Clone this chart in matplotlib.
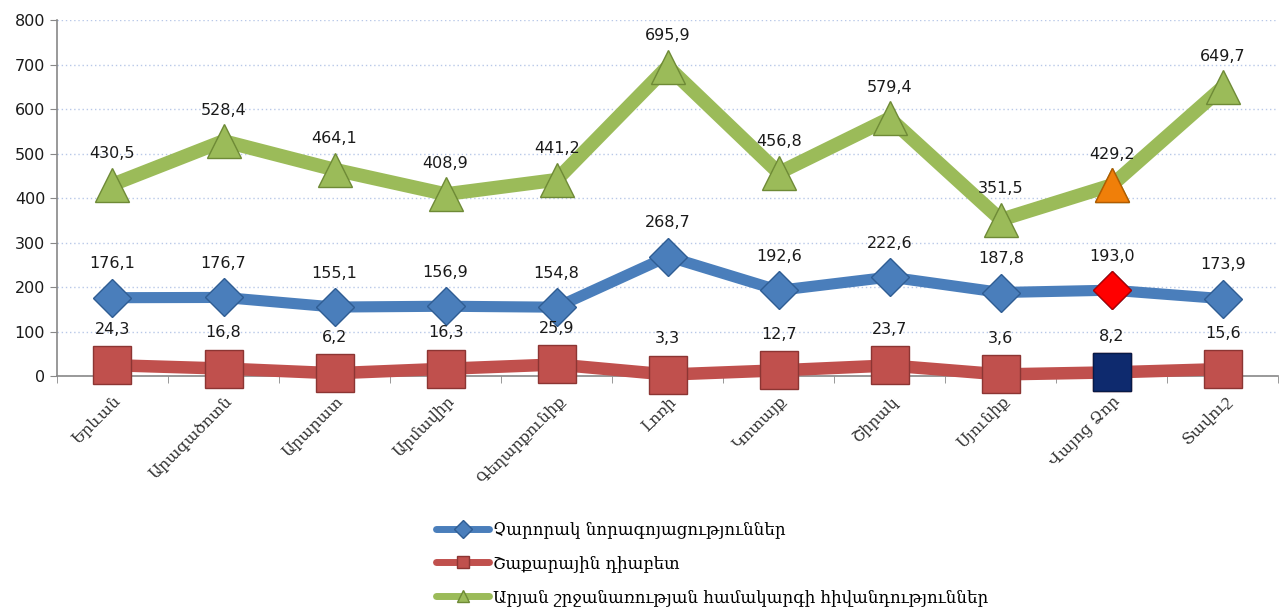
import numpy as np
import matplotlib
matplotlib.use("Agg")
import matplotlib.pyplot as plt

# === Data ===
regions = ["Երևան", "Արագածոտն", "Արարատ", "Արմավիր", "Գեղարքունիք", "Լոռի",
           "Կոտայք", "Շիրակ", "Սյունիք", "Վայոց Ձոր", "Տավուշ"]
cancer = [176.1, 176.7, 155.1, 156.9, 154.8, 268.7, 192.6, 222.6, 187.8, 193.0, 173.9]
diabetes = [24.3, 16.8, 6.2, 16.3, 25.9, 3.3, 12.7, 23.7, 3.6, 8.2, 15.6]
circulatory = [430.5, 528.4, 464.1, 408.9, 441.2, 695.9, 456.8, 579.4, 351.5, 429.2, 649.7]
series_names = ["Չարորակ նորագոյացություններ", "Շաքարային դիաբետ",
                "Արյան շրջանառության համակարգի հիվանդություններ"]
highlight = "Վայոց Ձոր"

SERIF = ["DejaVu Serif", "DejaVu Sans"]

fig = plt.figure(figsize=(12.83, 6.14), dpi=100)
ax = fig.add_axes([0.0444, 0.3876, 0.952, 0.5794])

x = np.arange(len(regions))
hi = regions.index(highlight)


def fmt(v):
    return f"{v:.1f}".replace(".", ",")


styles = [
    (cancer, "#4A7EBB", "#2f5d93", "D", 19, 8, "#FF0000", "#b00000", 34),
    (diabetes, "#C0504D", "#8c3533", "s", 28, 9, "#0E2A6E", "#071a47", 36),
    (circulatory, "#9BBB59", "#6e8a36", "^", 24, 10, "#F07F09", "#b35b00", 31),
]

handles = []
for (vals, col, edge, mk, ms, lw, hcol, hedge, off), name in zip(styles, series_names):
    ax.plot(x, vals, color=col, lw=lw, marker=mk, ms=ms,
            markerfacecolor=col, markeredgecolor=edge, markeredgewidth=1,
            solid_capstyle="round", zorder=3, clip_on=False)
    ax.plot(x[hi], vals[hi], linestyle="none", marker=mk, ms=ms,
            markerfacecolor=hcol, markeredgecolor=hedge, markeredgewidth=1,
            zorder=4, clip_on=False)
    for xi, v in zip(x, vals):
        ax.annotate(fmt(v), (xi, v), xytext=(0, off), textcoords="offset pixels",
                    ha="center", va="center", fontsize=11.5, color="#1a1a1a", zorder=5)
    h, = ax.plot([], [], color=col, lw=5, marker=mk, ms=9,
                 markerfacecolor=col, markeredgecolor=edge, solid_capstyle="round")
    handles.append(h)

ax.set_ylim(0, 800)
ax.set_xlim(-0.5, len(regions) - 0.5)
ax.set_yticks(np.arange(0, 801, 100))
ax.tick_params(axis="y", labelsize=11.5, length=5, color="#888888", labelcolor="#1a1a1a")
ax.set_xticks(x)
ax.set_xticklabels(regions, rotation=45, ha="right", rotation_mode="anchor",
                   family=SERIF, fontsize=11.5, color="#333333")
ax.tick_params(axis="x", length=0, pad=12)
ax.set_xticks(np.arange(-0.5, len(regions), 1), minor=True)
ax.tick_params(axis="x", which="minor", length=5, color="#888888")
ax.grid(axis="y", color="#b8c8e8", linestyle=(0, (1, 2)), lw=1)
ax.set_axisbelow(True)
for s in ["top", "right"]:
    ax.spines[s].set_visible(False)
for s in ["left", "bottom"]:
    ax.spines[s].set_color("#888888")
    ax.spines[s].set_linewidth(1.2)

fig.legend(handles, series_names, loc="center", bbox_to_anchor=(0.555, 0.082),
           frameon=False, prop={"family": SERIF, "size": 12}, handlelength=3.2,
           labelspacing=1.0, handletextpad=0.2)

fig.savefig("out.png", dpi=100)
